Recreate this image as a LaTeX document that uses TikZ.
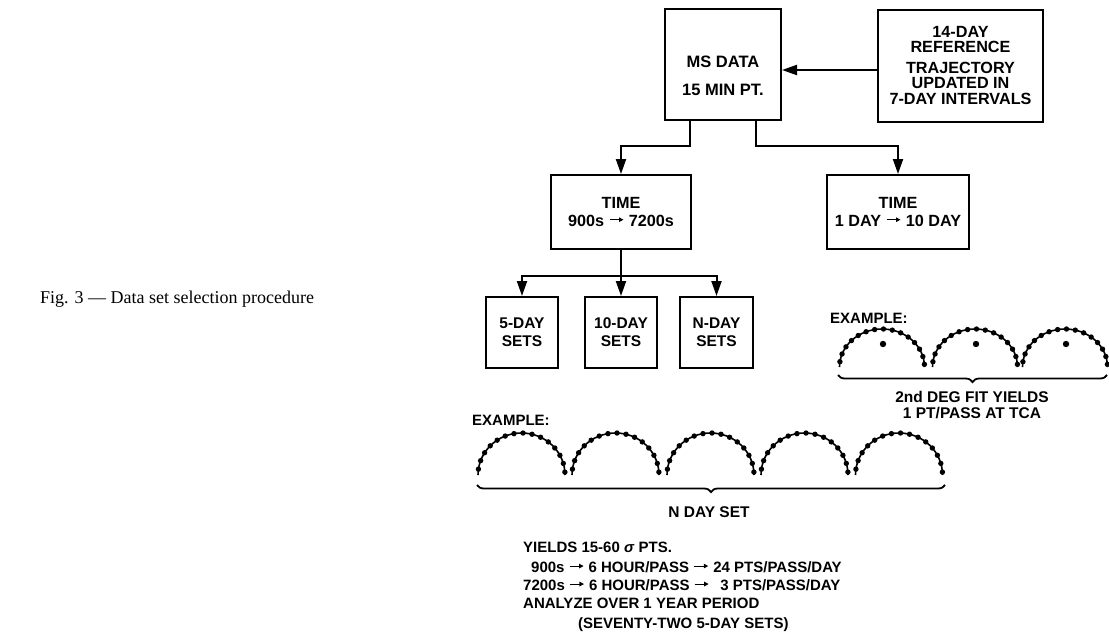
\documentclass[tikz,border=0pt]{standalone}
\usepackage{fontspec}
\setmainfont{Liberation Serif}
\setsansfont{Liberation Sans}
\usetikzlibrary{arrows.meta,decorations.pathreplacing}
\newcommand\myarr{\hspace{0.3em}\raisebox{0.28em}{\tikz[x=1pt,y=1pt]{\draw[line width=1.1pt,-{Triangle[length=4.5pt,width=4.5pt]}] (0,0)--(14,0);}}\hspace{0.3em}}
\tikzset{
  box/.style={draw, line width=2pt, inner sep=0pt, align=center,
    font=\sffamily\bfseries\fontsize{16.2}{18}\selectfont},
  txt/.style={inner sep=0pt, align=center,
    font=\sffamily\bfseries\fontsize{16.5}{18}\selectfont},
  note/.style={inner sep=0pt, anchor=base west,
    font=\sffamily\bfseries\fontsize{15}{18}\selectfont},
  conn/.style={line width=2pt, -{Triangle[length=15pt,width=10pt]}},
  curve/.style={line width=1.6pt},
  brc/.style={line width=1.8pt, decorate, decoration={brace, mirror, amplitude=7pt}},
}
\begin{document}
\begin{tikzpicture}[x=1pt,y=-1pt]
\useasboundingbox (0,0) rectangle (1109,642);

% caption
\node[inner sep=0pt, anchor=base west, font=\fontsize{18}{20}\selectfont] (cap) at (40,303)
  {Fig. 3 — Data set selection procedure};

% boxes
\node[box, minimum width=116pt, minimum height=111pt] (ms) at (723,64.5) {};
\node[txt] (mstext) at (723,76) {MS DATA\\[10pt]15 MIN PT.};
\node[box, minimum width=165pt, minimum height=112pt] (ref) at (960.5,66)
  {14-DAY\\[-3pt]REFERENCE\\[3pt]TRAJECTORY\\[-3pt]UPDATED IN\\[-2pt]7-DAY INTERVALS};
\node[box, minimum width=140pt, minimum height=74pt] (timeA) at (621,212)
  {TIME\\900s\myarr 7200s};
\node[box, minimum width=142pt, minimum height=74pt] (timeB) at (898,212)
  {TIME\\1 DAY\myarr 10 DAY};
\node[box, font=\sffamily\bfseries\fontsize{15.5}{18}\selectfont, minimum width=72pt, minimum height=71pt] (d5) at (522,332.5) {5-DAY\\SETS};
\node[box, font=\sffamily\bfseries\fontsize{15.5}{18}\selectfont, minimum width=72pt, minimum height=71pt] (d10) at (621,332.5) {10-DAY\\SETS};
\node[box, font=\sffamily\bfseries\fontsize{15.5}{18}\selectfont, minimum width=73pt, minimum height=71pt] (dn) at (716.5,332.5) {N-DAY\\SETS};

% connectors
\coordinate (a) at ([yshift=-4pt]ref.west);
\draw[conn] (a) -- (a -| ms.east);
\draw[conn] ([xshift=-33pt]ms.south) -- ++(0,25) -| (timeA.north);
\draw[conn] ([xshift=33pt]ms.south) -- ++(0,25) -| (timeB.north);
\draw[conn] (timeA.south) -- (d10.north);
\coordinate (j) at (621,276);
\draw[conn] (j) -| (d5.north);
\draw[conn] (j) -| (dn.north);

% top example
\node[note] (ex1) at (830,323.5) {EXAMPLE:};
\foreach \cx in {882,975,1065} {
  \draw[curve] (\cx-42.5,367) arc[start angle=180,end angle=0,x radius=42.5pt,y radius=38pt];
  \foreach \a in {172,160,...,4}
    \fill ({\cx+42.5*cos(\a)},{367-38*sin(\a)}) circle (2.7pt);
  \fill (\cx+1,344) circle (3.2pt);
}
\draw[brc] (838,375) -- (1107,375);
\node[txt, font=\sffamily\bfseries\fontsize{15.5}{16}\selectfont] (fit) at (972,405)
  {2nd DEG FIT YIELDS\\1 PT/PASS AT TCA};

% bottom example
\node[note] (ex2) at (472,425.5) {EXAMPLE:};
\foreach \cx in {521.5,615.5,710.5,804.5,899} {
  \draw[curve] (\cx-43.5,475) arc[start angle=180,end angle=0,x radius=43.5pt,y radius=42pt];
  \foreach \a in {172,160,...,4}
    \fill ({\cx+43.5*cos(\a)},{475-42*sin(\a)}) circle (2.7pt);
}
\draw[brc] (477,485) -- (945,485);
\node[txt, font=\sffamily\bfseries\fontsize{15.5}{18}\selectfont] (nset) at (709,512) {N DAY SET};

\node[note] (l1) at (523,552.5) {YIELDS 15-60 \textit{σ} PTS.};
\node[note] (l2) at (531,572.5) {900s\myarr 6 HOUR/PASS\myarr 24 PTS/PASS/DAY};
\node[note] (l3) at (523,590.5) {7200s\myarr 6 HOUR/PASS\myarr\ \,3 PTS/PASS/DAY};
\node[note] (l4) at (523,608.5) {ANALYZE OVER 1 YEAR PERIOD};
\node[note] (l5) at (578,628.5) {(SEVENTY-TWO 5-DAY SETS)};
\end{tikzpicture}
\end{document}
